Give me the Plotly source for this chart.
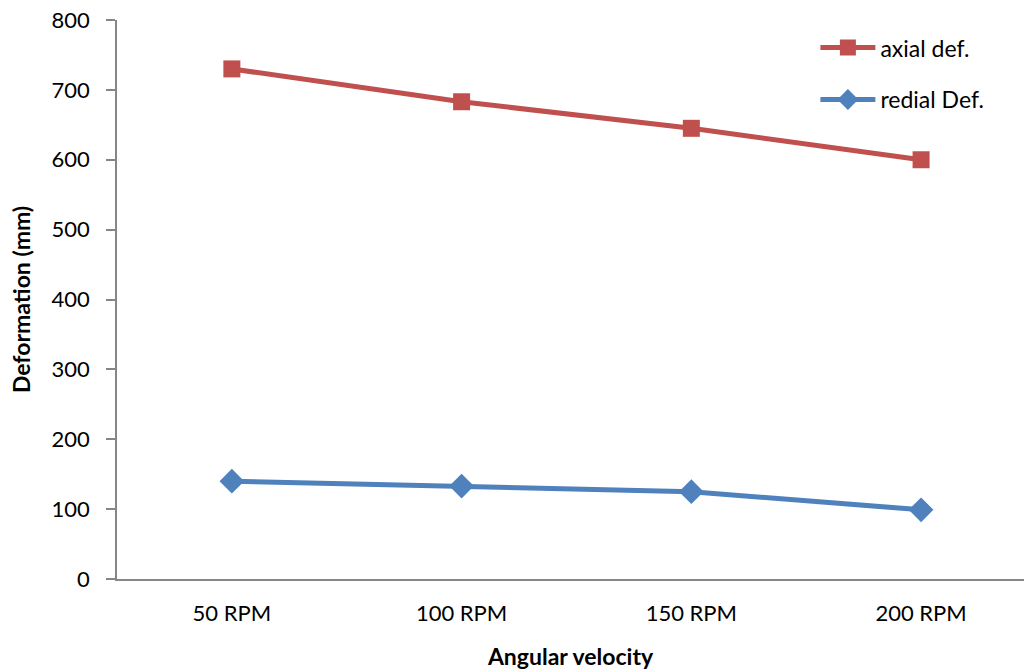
import plotly.graph_objects as go

categories = ["50 RPM", "100 RPM", "150 RPM", "200 RPM"]
axial_def = [730, 683, 645, 600]
radial_def = [140, 133, 125, 99]
y_ticks = [0, 100, 200, 300, 400, 500, 600, 700, 800]

FONT = "Lato, Carlito, Calibri, sans-serif"
AXIS_COLOR = "#868686"

fig = go.Figure()
fig.add_trace(go.Scatter(
    x=categories, y=axial_def, name="axial def.", mode="lines+markers",
    line=dict(color="#C0504D", width=5),
    marker=dict(symbol="square", size=17, color="#C0504D"),
    legendgroup="a",
))
fig.add_trace(go.Scatter(
    x=categories, y=radial_def, name="redial Def.", mode="lines+markers",
    line=dict(color="#4F81BD", width=5),
    marker=dict(symbol="diamond", size=19, color="#4F81BD"),
    legendgroup="b",
))

fig.update_layout(
    width=1024, height=672,
    margin=dict(l=117, r=0, t=20, b=93),
    paper_bgcolor="white", plot_bgcolor="white",
    font=dict(family=FONT, size=22, color="black"),
    showlegend=True,
    legend=dict(x=0.77, y=0.989, xanchor="left", yanchor="top",
                font=dict(size=23), tracegroupgap=19, itemwidth=55,
                bgcolor="rgba(0,0,0,0)"),
    xaxis=dict(
        type="category", range=[-0.5, 3.448],
        showline=True, linecolor=AXIS_COLOR, linewidth=1.5,
        ticks="", showgrid=False, zeroline=False,
        tickfont=dict(size=22), ticklabelstandoff=14,
        title=dict(text="<b>Angular velocity</b>", font=dict(size=23), standoff=24),
    ),
    yaxis=dict(
        range=[0, 800], tickvals=y_ticks,
        showline=True, linecolor=AXIS_COLOR, linewidth=1.5,
        ticks="outside", ticklen=9, tickcolor=AXIS_COLOR, tickwidth=1.5,
        showgrid=False, zeroline=False,
        tickfont=dict(size=22), ticklabelstandoff=12,
        title=dict(text="<b>Deformation (mm)</b>", font=dict(size=23), standoff=15),
    ),
)

fig.write_html("out.html")
